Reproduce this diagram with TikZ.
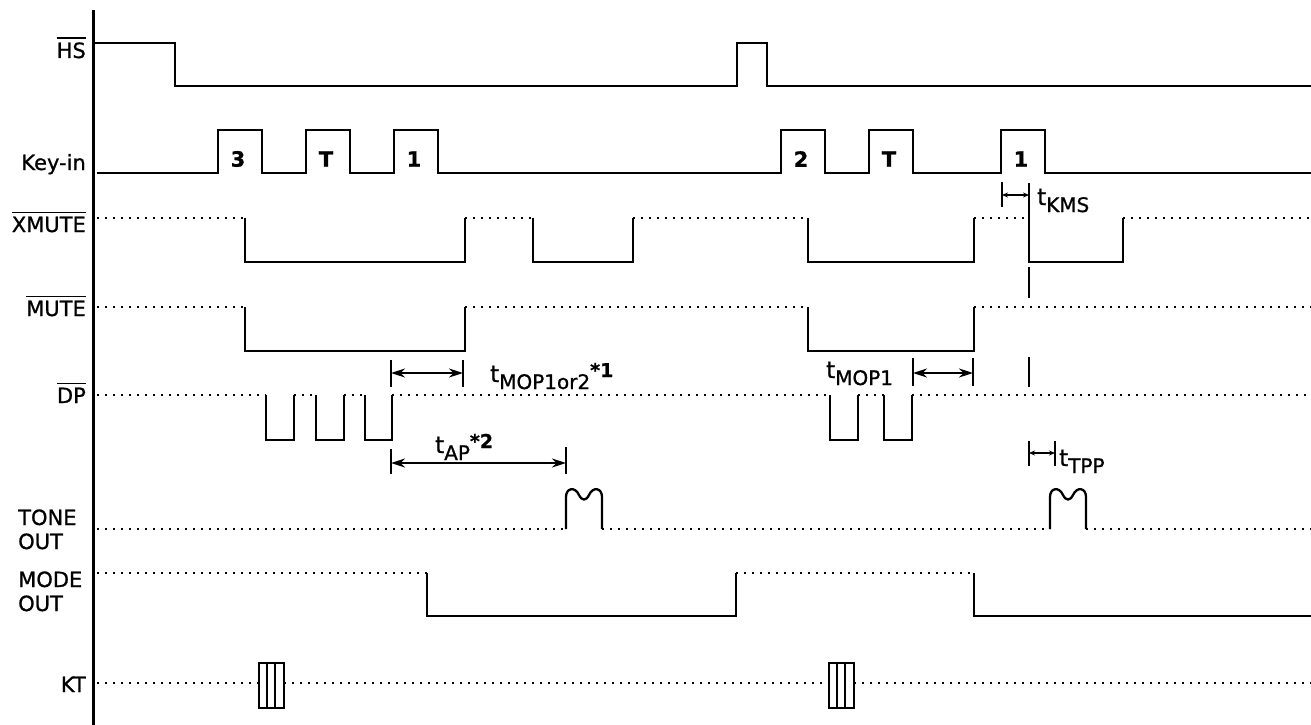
\documentclass[tikz,border=0pt]{standalone}
\usepackage{fontspec}
\setmainfont{DejaVu Sans}[FakeBold=0.9]
\usetikzlibrary{arrows.meta}
\newcommand{\ovl}[1]{\leavevmode\vbox{\hrule height 1.6pt \kern 3.5pt \hbox{#1}}}
\newcommand{\tsub}[1]{\raisebox{-7pt}{\fontsize{20}{20}\selectfont #1}}
\newcommand{\tsup}[1]{\raisebox{5pt}{\fontsize{19}{19}\selectfont\bfseries #1}}

\begin{document}
\begin{tikzpicture}[x=1pt, y=-1pt,
  wave/.style={line width=2.3pt},
  idle/.style={line width=2.3pt, dash pattern=on 2.3pt off 5.7pt},
  limit/.style={line width=2.3pt},
  span/.style={line width=1.9pt, {Stealth[length=14pt,width=9pt]}-{Stealth[length=14pt,width=9pt]}},
  shortspan/.style={line width=1.7pt, {Stealth[length=6pt,width=5pt]}-{Stealth[length=6pt,width=5pt]}},
  sig/.style={font=\fontsize{21}{23}\selectfont, anchor=base east, inner sep=0pt},
  sigl/.style={font=\fontsize{21}{23}\selectfont, anchor=base west, inner sep=0pt},
  note/.style={font=\fontsize{23}{25}\selectfont, anchor=base west, inner sep=0pt},
  keylbl/.style={font=\bfseries\fontsize{21}{23}\selectfont, inner sep=0pt}]
  \useasboundingbox (0,0) rectangle (1311,725);

  % time axis
  \draw[line width=3pt] (93,10) -- (93,725);

  % signal names
  \node[sig] (hs) at (86,58) {\ovl{HS}};
  \node[sig] (keyin) at (86,170) {Key-in};
  \node[sig] (xmute) at (86,232) {\ovl{XMUTE}};
  \node[sig] (mute) at (86,316) {\ovl{MUTE}};
  \node[sig] (dp) at (86,403) {\ovl{DP}};
  \node[sigl] (tone) at (18,525) {TONE};
  \node[sigl] (toneout) at (18,549) {OUT};
  \node[sigl] (mode) at (18,587) {MODE};
  \node[sigl] (modeout) at (18,611) {OUT};
  \node[sig] (kt) at (86,692) {KT};

  % HS
  \draw[wave] (93,43) -- (175,43) -- (175,86) -- (737,86) -- (737,43) -- (767,43) -- (767,86) -- (1311,86);

  % Key-in
  \draw[wave] (97,173) \foreach \a/\b in {218/262,306/350,394/438,781/825,869/913,1001/1045}
     { -- (\a,173) -- (\a,130) -- (\b,130) -- (\b,173) } -- (1311,173);
  \foreach \a/\k/\n in {218/3/ka,306/T/kb,394/1/kc,781/2/kd,869/T/ke,1001/1/kf}
     \node[keylbl] (\n) at (\a+20,159) {\k};

  % XMUTE
  \foreach \a/\b in {97/245,465/533,633/808,974/1029,1123/1311}
     \draw[idle] (\a,218) -- (\b,218);
  \foreach \a/\b in {245/465,533/633,808/974}
     \draw[wave] (\a,218) -- (\a,262) -- (\b,262) -- (\b,218);
  \draw[wave] (1029,183) -- (1029,262) -- (1123,262) -- (1123,218);

  % MUTE
  \foreach \a/\b in {97/245,465/808,974/1311}
     \draw[idle] (\a,307) -- (\b,307);
  \foreach \a/\b in {245/465,808/974}
     \draw[wave] (\a,307) -- (\a,351) -- (\b,351) -- (\b,307);
  \draw[limit] (1029,267) -- (1029,298);
  \draw[limit] (1029,357) -- (1029,387);

  % DP
  \foreach \a/\b in {97/266,294/316,344/365,392/830,858/884,912/1311}
     \draw[idle] (\a,395) -- (\b,395);
  \foreach \a/\b in {266/294,316/344,365/392,830/858,884/912}
     \draw[wave] (\a,395) -- (\a,440) -- (\b,440) -- (\b,395);

  % TONE OUT
  \foreach \a/\b in {97/566,602/1050,1086/1311}
     \draw[idle] (\a,529) -- (\b,529);
  \foreach \a in {566,1050}
     \draw[wave] (\a,529) -- (\a,497) .. controls (\a,488) and (\a+9,486) .. (\a+13,495)
        .. controls (\a+16,501) and (\a+20,501) .. (\a+23,495)
        .. controls (\a+27,486) and (\a+36,488) .. (\a+36,497) -- (\a+36,529);

  % MODE OUT
  \draw[idle] (97,573) -- (427,573);
  \draw[wave] (427,573) -- (427,616) -- (736,616) -- (736,573);
  \draw[idle] (736,573) -- (974,573);
  \draw[wave] (974,573) -- (974,616) -- (1311,616);

  % KT
  \foreach \a/\b in {97/259,284/829,854/1311}
     \draw[idle] (\a,683) -- (\b,683);
  \foreach \a in {259,829} {
     \draw[line width=2pt] (\a,663) rectangle (\a+25,708);
     \draw[line width=1.8pt] (\a+8,663) -- (\a+8,708) (\a+16,663) -- (\a+16,708);
  }

  % timings
  \coordinate (mopa) at (391,373);
  \coordinate (mopb) at (463,373);
  \draw[limit] (391,360) -- (391,387) (463,360) -- (463,387);
  \draw[span] (mopa) -- (mopb);
  \node[note] (tmopor) at (490,382) {t\tsub{MOP1or2}\tsup{*1}};

  \coordinate (apa) at (391,463);
  \coordinate (apb) at (566,463);
  \draw[limit] (391,449) -- (391,474) (566,447) -- (566,474);
  \draw[span] (apa) -- (apb);
  \node[note] (tap) at (435,453) {t\tsub{AP}\tsup{*2}};

  \coordinate (mopc) at (913,373);
  \coordinate (mopd) at (973,373);
  \draw[limit] (913,358) -- (913,386) (973,358) -- (973,386);
  \draw[span] (mopc) -- (mopd);
  \node[note] (tmop) at (826,378) {t\tsub{MOP1}};

  \coordinate (kmsa) at (1002,195);
  \coordinate (kmsb) at (1029,195);
  \draw[limit] (1002,182) -- (1002,207);
  \draw[shortspan] (kmsa) -- (kmsb);
  \node[note] (tkms) at (1037,205) {t\tsub{KMS}};

  \coordinate (tppa) at (1029,453);
  \coordinate (tppb) at (1055,453);
  \draw[limit] (1029,441) -- (1029,466) (1055,441) -- (1055,466);
  \draw[shortspan] (tppa) -- (tppb);
  \node[note] (ttpp) at (1059,466) {t\tsub{TPP}};
\end{tikzpicture}
\end{document}
